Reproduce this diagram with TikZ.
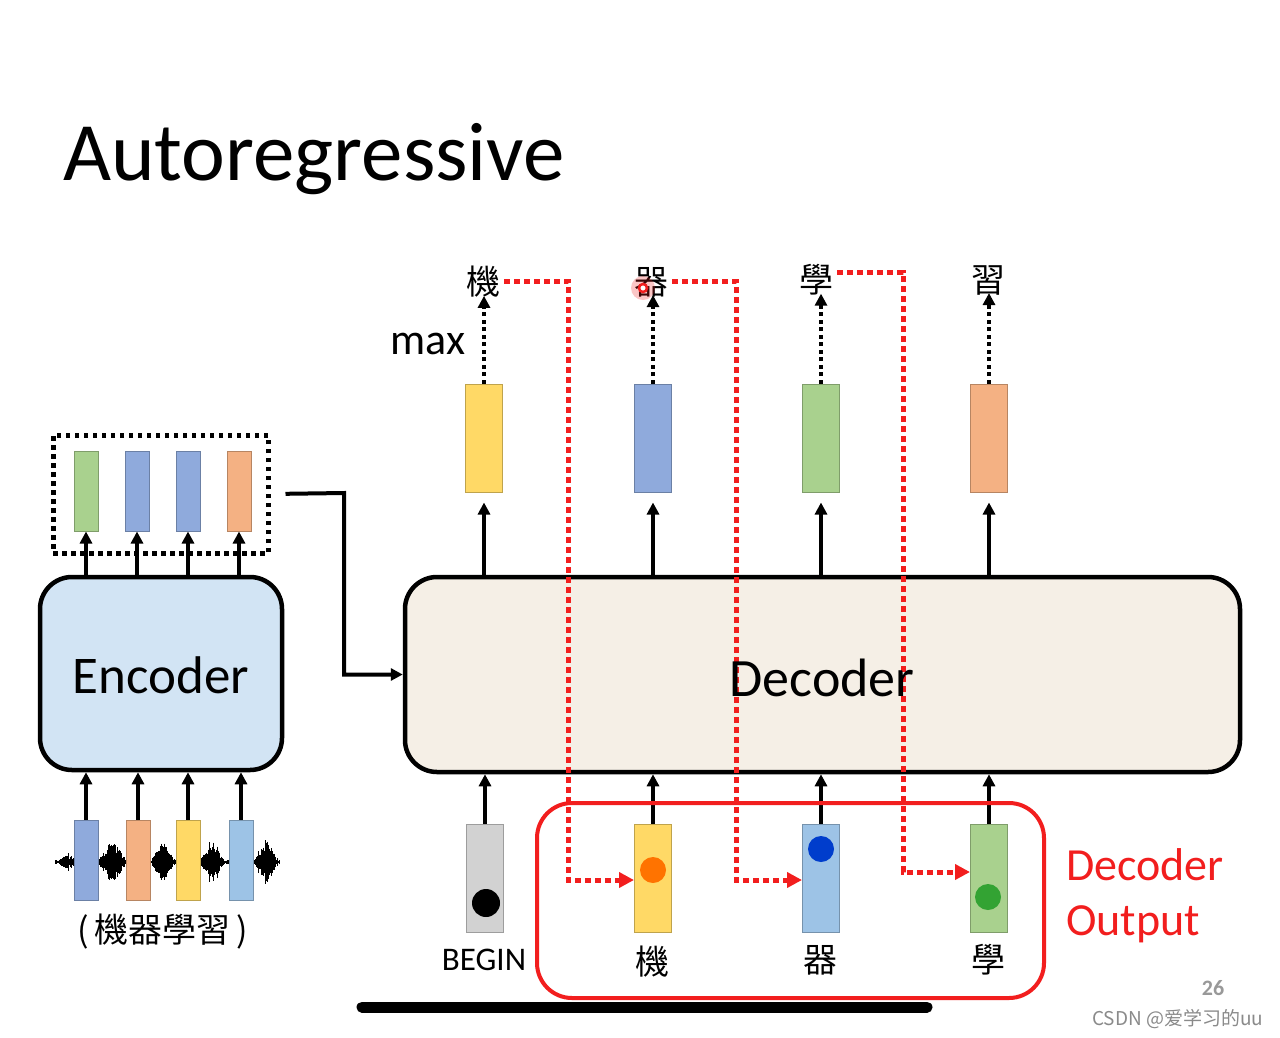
\documentclass[tikz,border=0pt]{standalone}
\usepackage{fontspec}
\setmainfont{Carlito}
\newfontfamily\cjk{Noto Sans CJK TC}
\newfontfamily\cjksc{Noto Sans CJK SC}
\usetikzlibrary{arrows.meta,calc}
\definecolor{vgreen}{HTML}{A9D18E}
\definecolor{vblue}{HTML}{8FAADC}
\definecolor{vorange}{HTML}{F4B183}
\definecolor{vyellow}{HTML}{FFD966}
\definecolor{vlblue}{HTML}{9DC3E6}
\definecolor{vgray}{HTML}{D2D2D2}
\definecolor{encfill}{HTML}{D2E4F4}
\definecolor{decfill}{HTML}{F5EFE6}
\definecolor{myred}{HTML}{F21E1E}
\definecolor{wmgray}{HTML}{8A8A8A}
\tikzset{
  vecs/.style={draw=#1!75!black, fill=#1, line width=1pt, minimum width=24pt, minimum height=80pt, inner sep=0pt},
  vecl/.style={draw=#1!75!black, fill=#1, line width=1pt, minimum width=37pt, minimum height=108pt, inner sep=0pt},
  arr/.style={line width=4pt, -{Triangle[length=12pt,width=12pt]}},
  dotarr/.style={line width=4pt, dash pattern=on 4pt off 3.5pt, -{Triangle[length=12pt,width=12pt]}},
  reddot/.style={draw=myred, line width=5pt, dash pattern=on 6pt off 4pt, -{Triangle[length=15pt,width=15pt]}, myred},
  bigbox/.style={draw, line width=4.5pt, rounded corners=32pt, inner sep=0pt},
  zh/.style={font=\cjk\fontsize{34}{40}\selectfont, inner sep=4pt},
}
\begin{document}
\begin{tikzpicture}[x=1pt,y=-1pt]
\useasboundingbox (0,0) rectangle (1280,1037);
\fill[white] (0,0) rectangle (1280,1037);

% title
\node[anchor=base west, inner sep=0pt, font=\fontsize{83}{90}\selectfont] (title) at (63,180) {Autoregressive};

% ---------------- encoder side ----------------
\node[bigbox, fill=encfill, minimum width=242pt, minimum height=193pt] (enc) at (161,673.5) {};
\node[inner sep=0pt, font=\fontsize{53}{60}\selectfont] (enctxt) at (161,675) {Encoder};

\node[draw, line width=5pt, dash pattern=on 4.5pt off 4.5pt, minimum width=215pt, minimum height=118pt, inner sep=0pt] (ebox) at (160.5,494) {};
\node[vecs=vgreen]  (e1) at (86,491) {};
\node[vecs=vblue]   (e2) at (137,491) {};
\node[vecs=vblue]   (e3) at (188,491) {};
\node[vecs=vorange] (e4) at (239,491) {};
\foreach \k in {1,...,4}{
  \draw[arr] (enc.north -| e\k) -- (e\k.south);
}

% waveform
\pgfmathsetseed{11}
\foreach \i in {0,...,448}{
  \pgfmathsetmacro\xx{55+\i/2}
  \pgfmathsetmacro\env{2+7*max(0,1-abs(\xx-68)/10)+22*max(0,1-abs(\xx-112)/14)+20*max(0,1-abs(\xx-163)/12)+24*max(0,1-abs(\xx-212)/12)+24*max(0,1-abs(\xx-266)/12)}
  \pgfmathsetmacro\hh{\env*(0.3+0.7*rnd)}
  \draw[line width=0.9pt] (\xx,862-\hh) -- (\xx,862+\hh);
}
\node[vecs=vblue]   (a1) at (86,860) {};
\node[vecs=vorange] (a2) at (138,860) {};
\node[vecs=vyellow] (a3) at (188,860) {};
\node[vecs=vlblue]  (a4) at (241,860) {};
\foreach \k in {1,...,4}{
  \draw[arr] (a\k.north) -- (a\k.north |- enc.south);
}
\node[inner sep=0pt, font=\cjk\fontsize{34}{40}\selectfont] (speech) at (163,932) {(\,機器學習\,)};

% ---------------- decoder ----------------
\node[bigbox, fill=decfill, minimum width=835pt, minimum height=195pt] (dec) at (822.5,674.5) {};

\coordinate (bend) at (344,493);
\draw[arr, shorten <=15pt] (ebox.east) -- (bend) |- (dec.west);

% output vectors
\node[vecl=vyellow] (o1) at (484,438) {};
\node[vecl=vblue]   (o2) at (653,438) {};
\node[vecl=vgreen]  (o3) at (821,438) {};
\node[vecl=vorange] (o4) at (989,438) {};
\foreach \k in {1,...,4}{
  \draw[arr, shorten >=10pt] (dec.north -| o\k) -- (o\k.south);
}

% top characters
\node[zh] (t1) at (483,282) {機};
\node[zh] (t2) at (651,282) {器};
\node[zh] (t3) at (816,280) {學};
\node[zh] (t4) at (988,280) {習};
\foreach \k in {1,...,4}{
  \draw[dotarr] (o\k.north) -- ($(t\k.south -| o\k)+(0,-6)$);
}
\node[inner sep=0pt, font=\fontsize{44}{50}\selectfont] (max) at (428,344) {max};

% input vectors
\node[vecl=vgray]   (i0) at (485,878) {};
\node[vecl=vyellow] (i1) at (653,878) {};
\node[vecl=vlblue]  (i2) at (821,878) {};
\node[vecl=vgreen]  (i3) at (989,878) {};
\fill[black] (486,903) circle (14pt);
\fill[orange!90!red] (653,870) circle (13pt);
\fill[blue!70!cyan!80!black] (821,849) circle (13pt);
\fill[green!55!black!80] (988,897) circle (13pt);
\foreach \k in {0,...,3}{
  \draw[arr] (i\k.north) -- (i\k.north |- dec.south);
}
\node[inner sep=0pt, font=\fontsize{33}{40}\selectfont] (lb0) at (484,960) {BEGIN};
\node[inner sep=0pt, font=\cjk\fontsize{34}{40}\selectfont] (lb1) at (652,962) {機};
\node[inner sep=0pt, font=\cjk\fontsize{34}{40}\selectfont] (lb2) at (820,960) {器};
\node[inner sep=0pt, font=\cjk\fontsize{34}{40}\selectfont] (lb3) at (988,960) {學};

% red output box
\node[draw=myred, line width=4pt, rounded corners=35pt, minimum width=507pt, minimum height=195pt, inner sep=0pt] (outbox) at (790.5,900.5) {};
\node[anchor=west, align=left, inner sep=0pt, text=myred, font=\fontsize{46}{55}\selectfont] (outtxt) at (1066,896) {Decoder\\Output};

% red dotted feedback lines
\coordinate (r1a) at (568,281);
\coordinate (r1b) at (568,880);
\coordinate (r2a) at (736,281);
\coordinate (r2b) at (736,880);
\coordinate (r3a) at (903,272);
\coordinate (r3b) at (903,872);
\draw[reddot] (t1.east |- r1a) -- (r1a) -- (r1b) -- (r1b -| i1.west);
\draw[reddot] (t2.east |- r2a) -- (r2a) -- (r2b) -- (r2b -| i2.west);
\draw[reddot] (t3.east |- r3a) -- (r3a) -- (r3b) -- (r3b -| i3.west);

\node[inner sep=0pt, font=\fontsize{54}{60}\selectfont] (dectxt) at (822,678) {Decoder};

% laser pointer dot
\fill[myred, opacity=0.25] (643,288) circle (12pt);
\draw[myred, line width=2.5pt, fill=white] (643,288) circle (4pt);

% page number, progress bar, watermark
\node[inner sep=0pt, text=gray!80, font=\bfseries\fontsize{22}{26}\selectfont] (pnum) at (1213,988) {26};
\coordinate (barL) at (362,1007);
\coordinate (barR) at (927,1007);
\draw[line width=11pt, line cap=round] (barL) -- (barR);
\node[anchor=west, inner sep=0pt, text=wmgray, font=\cjksc\fontsize{19}{22}\selectfont] (wm) at (1092,1019) {CSDN @爱学习的uu};
\end{tikzpicture}
\end{document}
